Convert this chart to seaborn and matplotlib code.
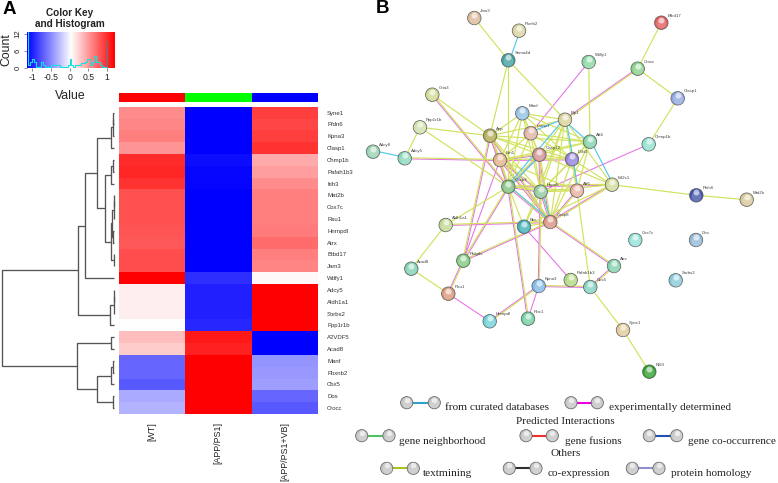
import numpy as np
import pandas as pd
import seaborn as sns
import matplotlib
matplotlib.use("Agg")
import matplotlib.pyplot as plt
from matplotlib.collections import LineCollection

sns.set_theme(style="white")
plt.rcParams['font.family'] = ['Liberation Sans', 'DejaVu Sans']

W, H = 778, 483

# ---------- heatmap data ----------
genes = ["Syne1", "Pfdn6", "Kpna3", "Clasp1", "Chmp1b", "Pafah1b3", "Itih3", "Mat2b", "Cox7c", "Rsu1",
         "Hnrnpdl", "Atrx", "Btbd17", "Jam3", "Wdfy1", "Adcy5", "Aldh1a1", "Sorbs2", "Ppp1r1b",
         "A2VDF5", "Acad8", "Manf", "Pbxnb2", "Cbx5", "Dos", "Crocc"]
groups = ["[WT]", "[APP/PS1]", "[APP/PS1+VB]"]
group_colors = ["#ff0000", "#00ff00", "#0000ff"]
wt = [.45, .47, .50, .42, .83, .85, .80, .68, .68, .68, .67, .65, .70, .70, 1.0, .07, .07, .07, 0,
      .25, .20, -.60, -.60, -.65, -.33, -.30]
app = [-1, -1, -1, -1, -.95, -.97, -.98, -1, -1, -1, -1, -1, -1, -1, -.82, -.87, -.87, -.87, -.85,
       .90, .87, 1, 1, 1, 1, 1]
vb = [.75, .72, .75, .80, .33, .38, .45, .50, .50, .50, .52, .58, .50, .48, .03, 1, 1, 1, 1,
      -1, -1, -.42, -.40, -.38, -.60, -.65]

# dendrogram: (height, left, right), integers are rows
tree = (1.0,
        (.320,
         (.262,
          (.147,
           (.027, (.012, (.005, 0, 1), 2), 3),
           (.084,
            (.031, (.009, 4, 5), 6),
            (.027,
             (.018, (.004, (.002, 7, 8), 9), (.008, 10, 11)),
             (.003, 12, 13)))),
          14),
         (.036, (.004, (.002, 15, 16), 17), 18)),
        (.329,
         (.031, 19, 20),
         (.151,
          (.031, (.013, 21, 22), 23),
          (.009, 24, 25))))

# histogram of the colour key
hist_edges = [-1.15, -1.10, -1.05, -1.00, -.95, -.90, -.85, -.80, -.75, -.70, -.65, -.60, -.55, -.50, -.45,
              -.40, -.35, -.30, -.25, -.20, -.15, -.10, -.05, 0, .05, .10, .15, .20, .25, .30, .35, .40,
              .45, .50, .55, .60, .65, .70, .75, .80, .85, .90, .95, 1.0]
hist_counts = [13, 1, 2, 3, 2, .4, .4, .4, 2, 1, .4, .4, .4, .8, .8, .8, .8, .8, .4, .4, .4, .4, 1, 3, 1,
               .4, 1, 1, 1, 1.5, 1.5, 2, 3, 3, 1, 2, 4, 2, 2, 1, .4, .4, .4]
key_spike = [1.0, 9.5]

# ---------- network data ----------
node_names = ["Jam3", "Plxnb2", "Sema4d", "Btbd17", "Wdfy1", "Crocc", "Clasp1", "Chmp1b", "Gria3", "Ppp1r1b",
              "Adcy8", "Adcy5", "App", "Manf", "Lamp1", "Bip1", "Atf4", "Casp12", "Ddit3", "Ern1", "Casp3",
              "Hspa5", "Atf6", "Eif2s1", "Pfdn6", "Mat2b", "Aldh1a1", "Bbc", "Casp8", "Cox7c", "Dos", "Sorbs2",
              "Atrx", "Pafah1b3", "Cbx5", "Kpna3", "Acad8", "Ptdgds", "Rsu1", "Hnrnpdl", "Rbx1", "Syne1", "Nfil3"]
node_x = [474.3, 519, 508.3, 661.3, 588.7, 637.7, 677.7, 648.7, 432.3, 420, 373, 404.7, 490, 522.3, 530.7, 565,
          590, 539.3, 572, 500, 508.3, 540.7, 577, 612, 696.3, 746.7, 445.7, 524, 550.3, 635.3, 696, 675.7,
          614, 570.7, 590.3, 538.7, 411.3, 463.3, 448.3, 489.7, 528, 623, 649.3]
node_y = [18, 30.7, 60.3, 22.7, 62, 68.7, 98.3, 144.3, 94.7, 127.3, 151.7, 158.3, 135.7, 113.3, 133.3, 119.7,
          141.7, 154.7, 159.3, 160, 186.7, 191.7, 190.7, 184.7, 195.3, 199.7, 225, 226.7, 222, 240, 240, 280.3,
          266, 280, 287, 286, 268.7, 260.7, 293.7, 321.3, 318.7, 330, 371.7]
node_colors = ["#d8b898", "#d8d4a0", "#3f9f9f", "#e05a5a", "#88d8a0", "#88d088", "#90a8e0", "#90e0d0", "#d0d890",
               "#d0e0a8", "#98d0b0", "#88d8b8", "#b0a850", "#90c0e0", "#e0b0a0", "#d8d098", "#80d0a8", "#d09090",
               "#9080d8", "#e0b088", "#80c080", "#90c8a0", "#e8b0a0", "#d0d898", "#4050a8", "#d8c898", "#c0d890",
               "#40b0b8", "#d89080", "#90e0d8", "#90b8d8", "#88c8d8", "#80d0b0", "#b0d880", "#80d0c0", "#80b8e8",
               "#80d0b0", "#80c880", "#d89878", "#70d0d8", "#70d0a0", "#e0c898", "#30a030"]

edges_text = [("Jam3", "Sema4d"), ("Btbd17", "Crocc"), ("Crocc", "Clasp1"), ("Clasp1", "Chmp1b"), ("Pfdn6", "Mat2b"),
              ("Eif2s1", "Pfdn6"), ("Cbx5", "Syne1"), ("Syne1", "Nfil3"), ("Acad8", "Aldh1a1"), ("Acad8", "Rsu1"),
              ("Sema4d", "Bip1"), ("Sema4d", "App"), ("Sema4d", "Casp3"), ("Wdfy1", "Atf4"), ("Gria3", "App"),
              ("Ppp1r1b", "Adcy5"), ("Ppp1r1b", "App"), ("Ppp1r1b", "Casp3"), ("Atf6", "Cbx5"),
              ("Manf", "App"), ("Manf", "Lamp1"), ("Manf", "Bip1"), ("Manf", "Atf4"), ("Manf", "Hspa5"),
              ("Manf", "Casp12"), ("Manf", "Ddit3"), ("Manf", "Ern1"), ("Manf", "Casp3"), ("Lamp1", "Atf4"),
              ("Lamp1", "Casp12"), ("App", "Bip1"), ("App", "Atf4"), ("App", "Hspa5"), ("Lamp1", "Ddit3"),
              ("Lamp1", "Hspa5"), ("Casp12", "Atf4"), ("Casp12", "Eif2s1"), ("Bip1", "Casp8"), ("Bip1", "Eif2s1"),
              ("Bip1", "Atf6"), ("Atf4", "Atf6"), ("Atf4", "Hspa5"), ("Bbc", "Casp3"), ("Bbc", "Casp8"),
              ("Bbc", "Hspa5"), ("Bbc", "Bip1"), ("Bbc", "Eif2s1"), ("Casp3", "Aldh1a1"),
              ("App", "Casp12"), ("App", "Ddit3"), ("Ern1", "Atf6"), ("Ern1", "Atf4"), ("Casp3", "Atf6"),
              ("Casp12", "Ddit3"), ("Hspa5", "Atf6"), ("Hspa5", "Eif2s1"), ("Hspa5", "Ddit3"), ("Hspa5", "Bip1"),
              ("Atf6", "Ddit3"), ("Eif2s1", "Ddit3"), ("Atf4", "Ddit3"), ("Atf4", "Casp8"), ("Ddit3", "Casp8"),
              ("Lamp1", "Casp3"), ("Lamp1", "Ern1"), ("Casp12", "Bip1")]
edges_exp = [("Wdfy1", "Lamp1"), ("Chmp1b", "Hspa5"), ("Bbc", "Pafah1b3"), ("Rsu1", "Hnrnpdl"), ("Kpna3", "Rbx1"),
             ("Ern1", "Ptdgds")]
edges_both = [("Crocc", "Bip1"), ("Adcy5", "Ern1"), ("Gria3", "Casp3"), ("Casp8", "Atrx"), ("Atrx", "Cbx5"),
              ("Kpna3", "Cbx5"), ("Kpna3", "Hnrnpdl"), ("Hspa5", "Kpna3"), ("Ptdgds", "Rsu1"), ("Ptdgds", "Casp8"),
              ("Ptdgds", "Casp3"), ("Ptdgds", "App"), ("Aldh1a1", "Casp8"), ("Casp3", "Rbx1"),
              ("App", "Ern1"), ("App", "Casp3"), ("App", "Casp8"),
              ("Ern1", "Casp3"), ("Ern1", "Casp12"), ("Ern1", "Hspa5"), ("Ern1", "Casp8"),
              ("Ern1", "Ddit3"), ("Casp3", "Casp12"), ("Casp3", "Hspa5"), ("Casp3", "Casp8"),
              ("Casp3", "Eif2s1"), ("Casp12", "Hspa5"), ("Casp12", "Casp8"),
              ("Hspa5", "Casp8"), ("Atf6", "Casp8"), ("Eif2s1", "Casp8")]
edges_curated = [("Adcy8", "Adcy5"), ("Plxnb2", "Sema4d"), ("Casp3", "Bip1"), ("Casp3", "Casp8"), ("Hspa5", "Casp8"),
                 ("Atf4", "Eif2s1"), ("Atf4", "Bip1"), ("Bip1", "Ddit3"), ("Lamp1", "Bip1"), ("Ddit3", "Atf6"),
                 ("Casp12", "Casp3")]

legend_labels = ["from curated databases", "experimentally determined", "gene neighborhood", "gene fusions",
                 "gene co-occurrence", "textmining", "co-expression", "protein homology"]
legend_colors = ["#30a0c8", "#f000e0", "#50c060", "#f03030", "#2050b0", "#a8c020", "#303030", "#9090d0"]
legend_left = [406.7, 571, 361.7, 526, 649.3, 386.7, 509.3, 632.3]
legend_right = [434.3, 597.3, 389, 552.3, 676.7, 413.3, 536, 659]
legend_row_y = [402.7, 402.7, 435.7, 435.7, 435.7, 468.3, 468.3, 468.3]
legend_text_x = [445, 609.3, 399.3, 564.7, 688.3, 423.3, 547.3, 671]
legend_headers = ["Predicted Interactions", "Others"]


# ---------- helpers ----------
fig = plt.figure(figsize=(W / 100, H / 100), dpi=100)
fig.patch.set_facecolor("white")


def ax_px(l, t, r, b):
    return fig.add_axes([l / W, 1 - b / H, (r - l) / W, (b - t) / H])


# ---------- main heatmap ----------
df = pd.DataFrame({g: v for g, v in zip(groups, [wt, app, vb])}, index=genes)
ax = ax_px(118.5, 106.7, 318, 414)
sns.heatmap(df, cmap="bwr", vmin=-1, vmax=1, cbar=False, ax=ax, xticklabels=True, yticklabels=True)
ax.yaxis.tick_right()
ax.tick_params(axis="y", length=0, pad=6.5, labelsize=4.3, labelcolor="#333333", labelrotation=0)
ax.tick_params(axis="x", length=0, pad=5.5, labelsize=6.4, labelcolor="#222222", labelrotation=90)
ax.set_xlabel("")
ax.set_ylabel("")

# group colour strip
ax_strip = ax_px(118.5, 92.7, 318, 102)
sns.heatmap(pd.DataFrame([[0, 1, 2]], columns=groups), cmap=group_colors, cbar=False, ax=ax_strip,
            xticklabels=False, yticklabels=False)
ax_strip.set_xlabel("")
ax_strip.set_ylabel("")

# ---------- dendrogram ----------
ax_d = ax_px(0, 106.7, 118.5, 414)
ax_d.set_xlim(114 / 112.5, -4.5 / 112.5)
ax_d.set_ylim(26, 0)
ax_d.axis("off")
segments = []


def walk(node):
    if isinstance(node, int):
        return 0.0, node + 0.5
    h, a, b = node
    ha, ya = walk(a)
    hb, yb = walk(b)
    segments.append([(ha, ya), (h, ya), (h, yb), (hb, yb)])
    return h, (ya + yb) / 2


walk(tree)
ax_d.add_collection(LineCollection(segments, colors="#555555", linewidths=0.95))

# ---------- colour key ----------
XMIN, XMAX = -1.14, 1.18
ax_k = ax_px(26.7, 32.3, 114, 67.7)
grad = np.linspace(XMIN, XMAX, 256)[None, :]
ax_k.imshow(grad, cmap="bwr", vmin=XMIN, vmax=XMAX, aspect="auto", extent=[XMIN, XMAX, 0, 12.5])
ax_k.step(hist_edges[:-1] + [hist_edges[-1]], hist_counts + [hist_counts[-1]], where="post",
          color="#18e0e0", lw=0.8)
ax_k.plot([key_spike[0], key_spike[0]], [0, key_spike[1]], color="#557a8a", lw=0.8)
ax_k.set_xlim(XMIN, XMAX)
ax_k.set_ylim(0, 12.5)
ax_k.set_xticks([-1, -.5, 0, .5, 1])
ax_k.set_xticklabels(["-1", "-0.5", "0", "0.5", "1"], fontsize=6.2, color="#222222")
ax_k.set_yticks([0, 6, 12])
ax_k.set_yticklabels(["0", "6", "12"], fontsize=5.6, rotation=90, va="center", color="#222222")
ax_k.tick_params(length=2, width=0.4, pad=1.5, color="#333333", bottom=True, left=True)
for s in ax_k.spines.values():
    s.set_visible(False)

# ---------- overlay in pixel coordinates ----------
ov = ax_px(0, 0, W, H)
ov.set_xlim(0, W)
ov.set_ylim(H, 0)
ov.patch.set_alpha(0)
ov.axis("off")

pos = {n: (x, y) for n, x, y in zip(node_names, node_x, node_y)}


def seg(a, b, off=0.0):
    (x1, y1), (x2, y2) = pos[a], pos[b]
    d = np.array([y2 - y1, x1 - x2], float)
    d = d / np.hypot(*d) * off
    return [(x1 + d[0], y1 + d[1]), (x2 + d[0], y2 + d[1])]


TEXT_C, EXP_C, CUR_C = "#d2e25e", "#e670e6", "#55c8e8"
ov.add_collection(LineCollection([seg(a, b, -.55) for a, b in edges_both] + [seg(a, b) for a, b in edges_exp],
                                 colors=EXP_C, linewidths=0.75, zorder=2))
ov.add_collection(LineCollection([seg(a, b) for a, b in edges_text] + [seg(a, b, .55) for a, b in edges_both],
                                 colors=TEXT_C, linewidths=0.85, zorder=2.1))
ov.add_collection(LineCollection([seg(a, b, 1.1) for a, b in edges_curated],
                                 colors=CUR_C, linewidths=0.85, zorder=2.2))


def spheres(xs, ys, cols, s=95):
    xs, ys = np.array(xs), np.array(ys)
    ov.scatter(xs, ys, s=s, c=cols, edgecolors="#5a5a5a", linewidths=0.5, zorder=3)
    ov.scatter(xs, ys + .6, s=s * .55, c="white", alpha=.22, linewidths=0, zorder=3.1)
    ov.scatter(xs, ys - 3.0, s=s * .2, c="white", alpha=.6, linewidths=0, zorder=3.2)


spheres(node_x, node_y, node_colors)
for n, x, y in zip(node_names, node_x, node_y):
    ov.text(x + 6, y - 7, n, fontsize=3.2, color="#444444", ha="left", va="center", zorder=4)

# network legend
for xl, xr, y, c, lab, tx in zip(legend_left, legend_right, legend_row_y, legend_colors, legend_labels,
                                 legend_text_x):
    ov.plot([xl, xr], [y, y], color=c, lw=1.5, zorder=2, solid_capstyle="butt")
    spheres([xl, xr], [y, y], ["#c4c4c4", "#c4c4c4"], s=78)
    ov.text(tx, y + 5.3, lab, family="Liberation Serif", fontsize=8.1, color="#222222", ha="left", va="center")
ov.text(565.5, 421, legend_headers[0], family="Liberation Serif", fontsize=8.1, color="#222222",
        ha="center", va="center")
ov.text(565.5, 454, legend_headers[1], family="Liberation Serif", fontsize=8.1, color="#222222",
        ha="center", va="center")

# titles and panel letters
ov.text(70, 18.5, "Color Key\nand Histogram", fontsize=7.2, fontweight="bold", color="#222222", ha="center",
        va="center", linespacing=1.15)
ov.text(6.5, 50, "Count", fontsize=8.8, color="#222222", rotation=90, ha="center", va="center")
ov.text(70, 96, "Value", fontsize=8.8, color="#222222", ha="center", va="center")
ov.text(2.5, 9, "A", fontsize=13.5, fontweight="bold", color="black", ha="left", va="center")
ov.text(376, 8.5, "B", fontsize=13.5, fontweight="bold", color="black", ha="left", va="center")

fig.savefig("out.png", dpi=100)
